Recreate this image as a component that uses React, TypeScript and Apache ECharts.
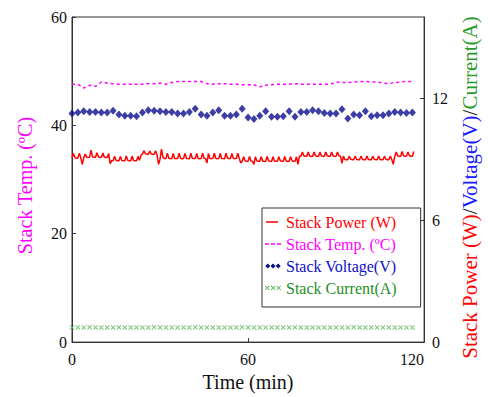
import React, { useEffect, useRef } from "react";
import * as echarts from "echarts";

// Sample times (min) for temperature, voltage and current
const sampleTimes = [
  0, 2, 4, 6, 8, 10, 12, 14, 16, 18,
  20, 22, 24, 26, 28, 30, 32, 34, 36, 38,
  40, 42, 44, 46, 48, 50, 52, 54, 56, 58,
  60, 62, 64, 66, 68, 70, 72, 74, 76, 78,
  80, 82, 84, 86, 88, 90, 92, 94, 96, 98,
  100, 102, 104, 106, 108, 110, 112, 114, 116,
];

// Stack temperature (°C), left axis
const tempValues = [
  47.6, 47.6, 46.9, 47.4, 47.2, 48.0, 47.8, 47.7, 47.6, 47.6,
  47.6, 47.6, 47.6, 47.7, 47.7, 47.8, 47.6, 47.9, 48.1, 48.1,
  48.1, 48.1, 48.1, 47.7, 47.6, 47.7, 47.7, 47.6, 47.6, 47.5,
  47.5, 47.5, 47.1, 47.4, 47.5, 47.6, 47.6, 47.6, 47.7, 47.6,
  47.6, 47.6, 47.6, 47.6, 47.6, 48.0, 47.9, 47.9, 48.0, 48.1,
  48.1, 48.0, 48.0, 47.8, 47.7, 47.9, 48.0, 48.1, 48.1,
];

// Stack voltage (V), right axis
const voltageValues = [
  11.25, 11.30, 11.36, 11.33, 11.33, 11.30, 11.30, 11.38, 11.20, 11.14,
  11.14, 11.11, 11.30, 11.41, 11.39, 11.36, 11.33, 11.33, 11.25, 11.25,
  11.33, 11.49, 11.20, 11.14, 11.30, 11.41, 11.14, 11.14, 11.20, 11.48,
  11.05, 10.98, 11.14, 11.36, 11.09, 11.09, 11.12, 11.36, 11.09, 11.33,
  11.33, 11.41, 11.36, 11.28, 11.25, 11.25, 11.46, 11.00, 11.20, 11.17,
  11.36, 11.12, 11.17, 11.17, 11.25, 11.33, 11.30, 11.28, 11.30,
];

// Stack current (A), right axis
const currentValues = [
  0.72, 0.72, 0.72, 0.73, 0.72, 0.72, 0.72, 0.72, 0.73, 0.72,
  0.72, 0.72, 0.72, 0.72, 0.73, 0.72, 0.72, 0.72, 0.72, 0.72,
  0.72, 0.73, 0.72, 0.72, 0.72, 0.72, 0.72, 0.72, 0.72, 0.73,
  0.72, 0.72, 0.72, 0.72, 0.72, 0.72, 0.72, 0.72, 0.73, 0.72,
  0.72, 0.72, 0.72, 0.72, 0.72, 0.72, 0.72, 0.72, 0.73, 0.72,
  0.72, 0.72, 0.72, 0.72, 0.72, 0.72, 0.72, 0.72, 0.72,
];

// Stack power (W), right axis, sampled every 0.5 min from t = 0
const POWER_STEP_MIN = 0.5;
const powerValues = [
  9.06, 9.28, 9.08, 9.05, 9.06, 9.30, 9.07, 8.75,
  9.08, 9.25, 9.10, 9.08, 9.10, 9.45, 9.12, 9.10,
  9.10, 9.32, 9.12, 9.09, 9.10, 9.30, 9.11, 9.08,
  9.08, 9.28, 8.78, 8.93, 8.93, 9.15, 8.95, 8.93,
  8.92, 9.14, 8.94, 8.93, 8.93, 9.16, 8.95, 8.92,
  8.93, 9.15, 8.94, 8.93, 8.93, 9.14, 8.95, 9.20,
  9.25, 9.42, 9.27, 9.25, 9.24, 9.40, 9.26, 9.24,
  9.25, 9.42, 9.20, 8.75, 9.00, 9.50, 9.10, 9.03,
  9.03, 9.30, 9.05, 9.03, 9.02, 9.28, 9.04, 9.03,
  9.03, 9.30, 9.05, 9.02, 9.03, 9.29, 9.04, 9.03,
  9.02, 9.30, 9.05, 9.03, 9.03, 9.28, 9.04, 9.02,
  9.03, 9.30, 9.05, 9.03, 8.82, 9.28, 9.04, 9.03,
  9.03, 9.30, 9.05, 9.02, 9.03, 9.28, 9.04, 9.03,
  9.02, 9.30, 9.05, 9.03, 9.03, 9.29, 9.04, 9.03,
  9.03, 9.30, 9.05, 8.82, 8.90, 9.12, 8.92, 8.90,
  8.90, 9.13, 8.91, 8.90, 8.75, 9.12, 8.92, 8.90,
  8.90, 9.12, 8.91, 8.89, 8.90, 9.13, 8.92, 8.90,
  8.89, 9.12, 8.91, 8.90, 8.90, 9.12, 8.92, 8.90,
  8.90, 9.13, 8.91, 8.89, 8.90, 9.12, 8.92, 8.90,
  8.90, 9.12, 8.75, 9.15, 9.15, 9.36, 9.17, 9.15,
  9.15, 9.35, 9.16, 9.14, 9.15, 9.36, 9.17, 9.15,
  9.14, 9.35, 9.16, 9.15, 9.15, 9.36, 9.17, 9.15,
  9.15, 9.35, 9.16, 9.14, 9.15, 9.36, 9.17, 9.15,
  8.80, 9.15, 8.99, 8.98, 8.98, 9.15, 9.00, 8.98,
  8.97, 9.16, 8.99, 8.98, 8.98, 9.15, 9.00, 8.97,
  8.98, 9.16, 8.99, 8.98, 8.98, 9.15, 9.00, 8.98,
  8.97, 9.16, 8.99, 8.98, 8.98, 9.15, 9.00, 8.97,
  8.98, 9.16, 8.99, 8.75, 9.15, 9.35, 9.16, 9.15,
  9.15, 9.38, 9.17, 9.15, 9.16, 9.36, 9.17, 9.15,
  9.15, 9.38,
];

const xTicks = { min: 0, max: 120, interval: 60 };
const leftTicks = { min: 0, max: 60, interval: 20 };
const rightTicks = { min: 0, max: 16, interval: 6 };

const NAMES = {
  power: "Stack Power (W)",
  temp: "Stack Temp. (ºC)",
  voltage: "Stack Voltage(V)",
  current: "Stack Current(A)",
};

const FONT = "'Liberation Serif', 'Times New Roman', serif";
const RED = "#ff0000";
const MAGENTA = "#ff00ff";
const BLUE = "#1010c8";
const NAVY = "#0c0c90";
const GREEN_MARK = "#5cb85c";
const GREEN_TEXT = "#1f8f1f";
const AXIS = "#333333";

const CROSS =
  "path://M0,0.7L0.7,0L2.5,1.8L4.3,0L5,0.7L3.2,2.5L5,4.3L4.3,5L2.5,3.2L0.7,5L0,4.3L1.8,2.5Z";

const ICON_POWER =
  "path://M0,0L0.01,0L0,0.01Z M1,2.3H13V3.7H1Z M16,6L15.99,6L16,5.99Z";
const ICON_TEMP =
  "path://M0,0L0.01,0L0,0.01Z M0,2.3H4V3.7H0Z M6,2.3H10V3.7H6Z M12,2.3H16V3.7H12Z M16,6L15.99,6L16,5.99Z";
const ICON_VOLT =
  "path://M0,0L0.01,0L0,0.01Z M0.3,3L2.8,0.6L5.3,3L2.8,5.4Z M5.5,3L8,0.6L10.5,3L8,5.4Z M10.7,3L13.2,0.6L15.7,3L13.2,5.4Z M16,6L15.99,6L16,5.99Z";
const ICON_CURR =
  "path://M0,0L0.01,0L0,0.01Z " +
  "M0,1.2L0.6,0.6L2.3,2.3L4,0.6L4.6,1.2L2.9,2.9L4.6,4.6L4,5.2L2.3,3.5L0.6,5.2L0,4.6L1.7,2.9Z " +
  "M5.7,1.2L6.3,0.6L8,2.3L9.7,0.6L10.3,1.2L8.6,2.9L10.3,4.6L9.7,5.2L8,3.5L6.3,5.2L5.7,4.6L7.4,2.9Z " +
  "M11.4,1.2L12,0.6L13.7,2.3L15.4,0.6L16,1.2L14.3,2.9L16,4.6L15.4,5.2L13.7,3.5L12,5.2L11.4,4.6L13.1,2.9Z " +
  "M16,6L15.99,6L16,5.99Z";

function legendItem(name: string, icon: string, iconColor: string, textColor: string) {
  return {
    name,
    icon,
    itemStyle: { color: iconColor, borderColor: iconColor, borderWidth: 0, opacity: 1 },
    lineStyle: { color: iconColor, width: 0 },
    textStyle: { color: textColor },
  };
}

export default function App() {
  const ref = useRef<HTMLDivElement>(null);

  useEffect(() => {
    if (!ref.current) return;
    const chart = echarts.init(ref.current, undefined, { renderer: "svg" });

    const pair = (vals: number[]) => sampleTimes.map((t, i) => [t, vals[i]]);
    const powerData = powerValues.map((v, i) => [i * POWER_STEP_MIN, v]);

    const option: any = {
      animation: false,
      backgroundColor: "#ffffff",
      textStyle: { fontFamily: FONT },
      grid: {
        left: 72,
        right: 56,
        top: 17,
        bottom: 50,
        show: true,
        borderColor: AXIS,
        borderWidth: 1,
        backgroundColor: "transparent",
      },
      legend: {
        orient: "vertical",
        left: 262,
        top: 208,
        backgroundColor: "#ffffff",
        borderColor: AXIS,
        borderWidth: 1,
        borderRadius: 0,
        padding: [6, 24, 11, 3],
        itemGap: 6,
        itemWidth: 16,
        itemHeight: 6,
        textStyle: { fontFamily: FONT, fontSize: 16 },
        data: [
          legendItem(NAMES.power, ICON_POWER, RED, RED),
          legendItem(NAMES.temp, ICON_TEMP, MAGENTA, MAGENTA),
          legendItem(NAMES.voltage, ICON_VOLT, NAVY, BLUE),
          legendItem(NAMES.current, ICON_CURR, GREEN_MARK, GREEN_TEXT),
        ],
      },
      xAxis: {
        type: "value",
        min: xTicks.min,
        max: xTicks.max,
        interval: xTicks.interval,
        name: "Time (min)",
        nameLocation: "middle",
        nameGap: 24,
        nameTextStyle: { fontFamily: FONT, fontSize: 20, color: "#111" },
        axisLine: { lineStyle: { color: AXIS, width: 1 } },
        axisTick: { inside: true, length: 4, lineStyle: { color: AXIS } },
        axisLabel: { fontFamily: FONT, fontSize: 16, color: "#111", margin: 9, alignMaxLabel: "right" },
        splitLine: { show: false },
      },
      yAxis: [
        {
          type: "value",
          position: "left",
          min: leftTicks.min,
          max: leftTicks.max,
          interval: leftTicks.interval,
          name: NAMES.temp,
          nameLocation: "middle",
          nameRotate: 90,
          nameGap: 37,
          nameTextStyle: { fontFamily: FONT, fontSize: 20, color: MAGENTA, padding: [0, 12, 0, 0] },
          axisLine: { show: true, lineStyle: { color: AXIS, width: 1 } },
          axisTick: { show: true, inside: true, length: 4, lineStyle: { color: AXIS } },
          axisLabel: { fontFamily: FONT, fontSize: 16, color: "#111", margin: 5 },
          splitLine: { show: false },
        },
        {
          type: "value",
          position: "right",
          min: rightTicks.min,
          max: rightTicks.max,
          interval: rightTicks.interval,
          name: "{r|Stack Power (W)}{k|/}{b|Voltage(V)}{k|/}{g|Current(A)}",
          nameLocation: "middle",
          nameRotate: 90,
          nameGap: 26,
          nameTextStyle: {
            fontFamily: FONT,
            fontSize: 21,
            padding: [0, 16, 0, 0],
            rich: {
              r: { color: RED, fontFamily: FONT, fontSize: 21 },
              k: { color: "#111", fontFamily: FONT, fontSize: 21 },
              b: { color: "#1a1aff", fontFamily: FONT, fontSize: 21 },
              g: { color: "#2a9a2a", fontFamily: FONT, fontSize: 21 },
            },
          },
          axisLine: { show: true, lineStyle: { color: AXIS, width: 1 } },
          axisTick: { show: true, inside: true, length: 4, lineStyle: { color: AXIS } },
          axisLabel: { fontFamily: FONT, fontSize: 16, color: "#111", margin: 8, showMaxLabel: false },
          splitLine: { show: false },
        },
      ],
      series: [
        {
          name: NAMES.current,
          type: "scatter",
          yAxisIndex: 1,
          symbol: CROSS,
          symbolSize: 5,
          itemStyle: { color: GREEN_MARK, borderWidth: 0 },
          data: pair(currentValues),
        },
        {
          name: NAMES.power,
          type: "line",
          yAxisIndex: 1,
          showSymbol: false,
          symbol: "none",
          lineStyle: { color: RED, width: 1.5 },
          itemStyle: { color: RED },
          data: powerData,
        },
        {
          name: NAMES.temp,
          type: "line",
          yAxisIndex: 0,
          showSymbol: false,
          symbol: "none",
          lineStyle: { color: MAGENTA, width: 1.5, type: [3, 3] },
          itemStyle: { color: MAGENTA },
          data: pair(tempValues),
        },
        {
          name: NAMES.voltage,
          type: "scatter",
          yAxisIndex: 1,
          symbol: "diamond",
          symbolSize: [7, 8],
          itemStyle: { color: NAVY, borderWidth: 0 },
          data: pair(voltageValues),
        },
      ],
    };

    chart.setOption(option);
    return () => chart.dispose();
  }, []);

  return (
    <div
      ref={ref}
      style={{ position: "fixed", left: 0, top: 0, width: 488, height: 397, background: "#fff" }}
    />
  );
}
